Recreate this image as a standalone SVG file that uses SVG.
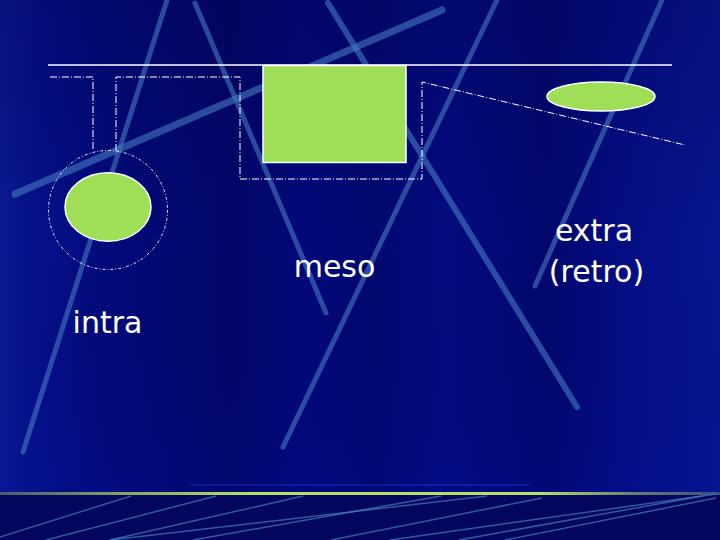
<svg xmlns="http://www.w3.org/2000/svg" width="720" height="540" viewBox="0 0 720 540">
  <defs>
    <linearGradient id="bg" x1="0" y1="0" x2="1" y2="0">
      <stop offset="0" stop-color="#0b1a92"/>
      <stop offset="0.05" stop-color="#05108a"/>
      <stop offset="0.15" stop-color="#030a7a"/>
      <stop offset="0.32" stop-color="#020668"/>
      <stop offset="0.42" stop-color="#03087a"/>
      <stop offset="0.52" stop-color="#020870"/>
      <stop offset="0.62" stop-color="#040b80"/>
      <stop offset="0.76" stop-color="#02076e"/>
      <stop offset="0.86" stop-color="#040d84"/>
      <stop offset="1" stop-color="#08168f"/>
    </linearGradient>
    <linearGradient id="shade" x1="0" y1="0" x2="0" y2="1">
      <stop offset="0" stop-color="#000040" stop-opacity="0.25"/>
      <stop offset="0.5" stop-color="#000040" stop-opacity="0"/>
      <stop offset="1" stop-color="#0010a0" stop-opacity="0.15"/>
    </linearGradient>
    <linearGradient id="floorline" x1="0" y1="0" x2="720" y2="0" gradientUnits="userSpaceOnUse">
      <stop offset="0" stop-color="#4a5a70"/>
      <stop offset="0.2" stop-color="#8fb060"/>
      <stop offset="0.35" stop-color="#b4e068"/>
      <stop offset="0.75" stop-color="#b4e068"/>
      <stop offset="0.88" stop-color="#6a8070"/>
      <stop offset="1" stop-color="#3a4a80"/>
    </linearGradient>
    <style>
      .beam { stroke: #4579c2; stroke-linecap: round; fill: none; opacity: 0.6; }
      .fbeam { stroke: #4a86d0; stroke-width: 1.5; fill: none; opacity: 0.65; }
      .shape { fill: #9fdf58; stroke: #ffffff; stroke-width: 1.5; }
      .dash { fill: none; stroke: #ffffff; stroke-width: 1; stroke-dasharray: 7 2 1 2; }
      .dot { fill: none; stroke: #ffffff; stroke-width: 0.9; stroke-dasharray: 3 2 1 2; }
      .label { font-family: "DejaVu Sans", Verdana, sans-serif; font-size: 30px; fill: #ffffff; text-anchor: middle; }
    </style>
  </defs>

  <g id="background">
    <rect x="0" y="0" width="720" height="540" fill="url(#bg)"/>
    <rect x="0" y="0" width="720" height="495" fill="url(#shade)"/>
    <rect x="0" y="495" width="720" height="45" fill="#02065c"/>
    <line x1="15" y1="194" x2="442" y2="10" class="beam" stroke-width="7"/>
    <line x1="167" y1="0" x2="23" y2="452" class="beam" stroke-width="5"/>
    <line x1="195" y1="3" x2="326" y2="313" class="beam" stroke-width="5"/>
    <line x1="328" y1="3" x2="577" y2="407" class="beam" stroke-width="6"/>
    <line x1="497" y1="0" x2="283" y2="447" class="beam" stroke-width="5"/>
    <line x1="662" y1="0" x2="535" y2="286" class="beam" stroke-width="5"/>
    <rect x="190" y="484" width="340" height="2" fill="#1030c0" opacity="0.45"/>
    <rect x="0" y="492" width="720" height="3" fill="url(#floorline)"/>
    <line x1="0" y1="537" x2="131" y2="496" class="fbeam"/>
    <line x1="46" y1="540" x2="216" y2="496" class="fbeam"/>
    <line x1="110" y1="540" x2="303" y2="496" class="fbeam"/>
    <line x1="110" y1="540" x2="487" y2="496" class="fbeam"/>
    <line x1="193" y1="540" x2="441" y2="496" class="fbeam"/>
    <line x1="331" y1="540" x2="542" y2="498" class="fbeam"/>
    <line x1="390" y1="540" x2="716" y2="494" class="fbeam"/>
    <line x1="459" y1="540" x2="702" y2="496" class="fbeam"/>
    <line x1="505" y1="540" x2="716" y2="498" class="fbeam"/>
  </g>

  <g id="connectors">
    <line x1="48" y1="65" x2="672" y2="65" stroke="#ffffff" stroke-width="1.5"/>
    <path class="dash" d="M50,77 H93 V149"/>
    <path class="dash" d="M116,151 V77 H240 V179 H422 V82 L685,145"/>
  </g>

  <g id="intra">
    <ellipse class="dot" cx="108" cy="210" rx="59.5" ry="59.5"/>
    <ellipse class="shape" cx="108" cy="207" rx="43" ry="34.3"/>
    <text class="label" x="107.5" y="333">intra</text>
  </g>

  <g id="meso">
    <rect class="shape" x="263" y="65.5" width="143" height="97"/>
    <text class="label" x="334.5" y="277">meso</text>
  </g>

  <g id="extra">
    <ellipse class="shape" cx="601" cy="96.5" rx="54" ry="14.5"/>
    <text class="label" x="594" y="241">extra</text>
    <text class="label" x="596.5" y="282">(retro)</text>
  </g>
</svg>
